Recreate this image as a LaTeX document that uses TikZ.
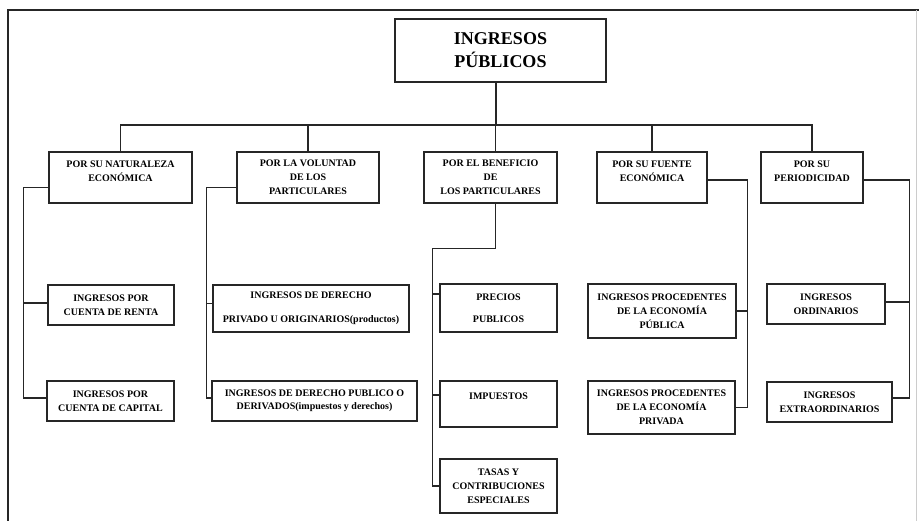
\documentclass[tikz,border=0pt]{standalone}
\usepackage{fontspec}
\setmainfont{Liberation Serif}
\usetikzlibrary{calc}

\begin{document}
\begin{tikzpicture}[x=1pt, y=-1pt, line width=1.1pt, draw=black!85,
    caja/.style={draw=black!85, line width=1.5pt, inner sep=0pt, align=center,
        font=\bfseries\fontsize{10}{14}\selectfont},
    titulo/.style={caja, font=\bfseries\fontsize{18}{23}\selectfont}]
    \useasboundingbox (0,0) rectangle (919,521);
    % Frame
    \draw [line width=1.4pt] (8,521) -- (8,10) -- (919,10);
    \draw [black!20, line width=0.8pt] (916,10) -- (916,521);
    % Title
    \node [titulo, minimum width=211pt, minimum height=63pt] (ing) at (500.5,50.5) {INGRESOS\\PÚBLICOS};
    % Criteria
    \node [caja, minimum width=143pt, minimum height=51pt] (nat) at (120.5,177.5) {POR SU NATURALEZA\\ECONÓMICA\\[-1pt]\mbox{}};
    \node [caja, minimum width=142pt, minimum height=51pt] (vol) at (308,177.5) {POR LA VOLUNTAD\\DE LOS\\PARTICULARES};
    \node [caja, minimum width=133pt, minimum height=51pt] (ben) at (490.5,177.5) {POR EL BENEFICIO\\DE\\LOS PARTICULARES};
    \node [caja, minimum width=110pt, minimum height=51pt] (fue) at (652,177.5) {POR SU FUENTE\\ECONÓMICA\\[-1pt]\mbox{}};
    \node [caja, minimum width=102pt, minimum height=51pt] (per) at (812,177.5) {POR SU\\PERIODICIDAD\\[-1pt]\mbox{}};
    % Branches
    \node [caja, minimum width=126pt, minimum height=40pt] (renta) at (111,305) {INGRESOS POR\\CUENTA DE RENTA};
    \node [caja, minimum width=127pt, minimum height=40pt] (capital) at (110.5,401) {INGRESOS POR\\CUENTA DE CAPITAL};
    \node [caja, minimum width=196pt, minimum height=47pt] (privado) at (311,308.5) {INGRESOS DE DERECHO\\[10pt]PRIVADO U ORIGINARIOS(productos)};
    \node [caja, minimum width=205pt, minimum height=40pt] (publico) at (314.5,401) {INGRESOS DE DERECHO PUBLICO O\\[-1.5pt]DERIVADOS(impuestos y derechos)};
    \node [caja, minimum width=117pt, minimum height=48pt] (precios) at (498.5,308) {PRECIOS\\[8pt]PUBLICOS};
    \node [caja, minimum width=117pt, minimum height=46pt] (impuestos) at (498.5,404) {IMPUESTOS\\[2pt]\mbox{}};
    \node [caja, minimum width=117pt, minimum height=54pt] (tasas) at (498.5,486) {TASAS Y\\CONTRIBUCIONES\\ESPECIALES};
    \node [caja, minimum width=148pt, minimum height=54pt] (ecopub) at (662,311) {INGRESOS PROCEDENTES\\DE LA ECONOMÍA\\PÚBLICA};
    \node [caja, minimum width=147pt, minimum height=53pt] (ecopriv) at (661.5,407.5) {INGRESOS PROCEDENTES\\DE LA ECONOMÍA\\PRIVADA};
    \node [caja, minimum width=118pt, minimum height=40pt] (ordin) at (826,304) {INGRESOS\\ORDINARIOS};
    \node [caja, minimum width=125pt, minimum height=40pt] (extra) at (829.5,402) {INGRESOS\\EXTRAORDINARIOS};
    % Top bar
    \coordinate (barra) at (0,125);
    \draw ([xshift=-4.5pt]ing.south) -- ([xshift=-4.5pt]ing.south |- barra);
    \draw (nat.north) |- (barra -| per.north) -- (per.north);
    \foreach \n in {vol, fue}
        \draw (\n.north) -- (\n.north |- barra);
    \draw ([xshift=5pt]ben.north) -- ([xshift=5pt]ben.north |- barra);
    % Naturaleza
    \draw ([yshift=-10pt]nat.west) -- ++(-25,0) |- ([yshift=3pt]capital.west);
    \draw ([yshift=2pt]renta.west) -- ++(-24,0);
    % Voluntad
    \draw ([yshift=-10pt]vol.west) -- ++(-30,0) |- ([yshift=3pt]publico.west);
    \draw ([yshift=5pt]privado.west) -- ++(-6,0);
    % Beneficio
    \draw ([xshift=5pt]ben.south) -- ++(0,45) -| ([xshift=-7pt]tasas.west) -- (tasas.west);
    \draw ([yshift=14pt]precios.west) -- ++(-7,0);
    \draw ([yshift=9pt]impuestos.west) -- ++(-7,0);
    % Fuente
    \draw ([yshift=-2.5pt]fue.east) -| ([xshift=12pt]ecopriv.east) -- (ecopriv.east);
    \draw (ecopub.east) -- ++(11,0);
    % Periodicidad
    \draw ([yshift=-2.5pt]per.east) -| ([xshift=17pt,yshift=4pt]extra.east) -- ([yshift=4pt]extra.east);
    \draw ([yshift=2pt]ordin.east) -- ++(24,0);
\end{tikzpicture}
\end{document}
